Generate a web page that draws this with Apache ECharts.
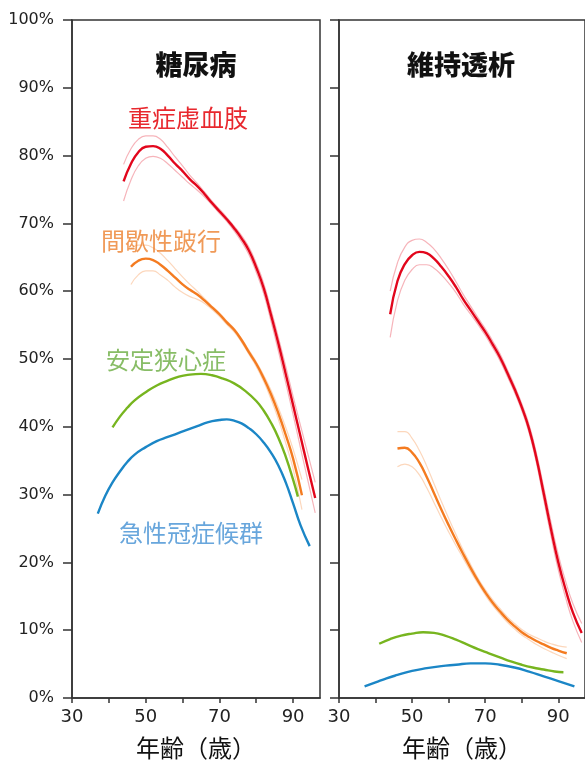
<!DOCTYPE html>
<html>
<head>
<meta charset="utf-8">
<script src="https://cdn.jsdelivr.net/npm/echarts@6/dist/echarts.min.js"></script>
<style>
  html, body { margin: 0; padding: 0; background: #fff; }
  #chart { width: 585px; height: 765px; }
</style>
</head>
<body>
<div id="chart"></div>
<script>
// 糖尿病 (left panel)
const dmRedAge = [44, 46, 48, 50, 52, 54, 56, 58, 60, 62, 64, 66, 68, 70, 72, 74, 76, 78, 80, 82, 84, 86, 88, 90, 92, 94, 96]
const dmRedVal = [76.2, 78.8, 80.5, 81.3, 81.4, 81.0, 80.0, 78.8, 77.7, 76.5, 75.5, 74.3, 73.0, 71.8, 70.6, 69.3, 67.8, 66.0, 63.5, 60.5, 56.5, 52.3, 47.8, 43.2, 38.6, 34.0, 29.5]
const dmRedUp = [78.7, 81.0, 82.4, 82.9, 82.9, 82.4, 81.2, 79.8, 78.5, 77.1, 75.9, 74.6, 73.3, 72.1, 70.9, 69.6, 68.2, 66.5, 64.1, 61.2, 57.3, 53.2, 48.9, 44.5, 40.2, 36.0, 31.8]
const dmRedLo = [73.3, 76.4, 78.5, 79.6, 79.9, 79.6, 78.8, 77.8, 76.8, 75.8, 74.9, 73.9, 72.7, 71.5, 70.3, 68.9, 67.3, 65.4, 62.8, 59.7, 55.6, 51.2, 46.5, 41.8, 36.9, 32.1, 27.3]

const dmOrgAge = [46, 48, 50, 52, 54, 56, 58, 60, 62, 64, 66, 68, 70, 72, 74, 76, 78, 80, 82, 84, 86, 88, 90, 92.4]
const dmOrgVal = [63.6, 64.5, 64.8, 64.6, 63.9, 63.0, 62.0, 61.0, 60.2, 59.5, 58.6, 57.6, 56.6, 55.4, 54.3, 52.8, 51.0, 49.3, 47.2, 44.8, 42.0, 38.8, 35.3, 29.9]
const dmOrgUp = [66.3, 66.8, 66.8, 66.4, 65.6, 64.5, 63.3, 62.1, 61.0, 60.0, 58.9, 57.8, 56.8, 55.6, 54.5, 53.0, 51.3, 49.6, 47.6, 45.4, 42.8, 39.9, 36.7, 32.2]
const dmOrgLo = [61.0, 62.4, 63.0, 63.0, 62.4, 61.6, 60.6, 59.8, 59.2, 58.8, 58.2, 57.3, 56.3, 55.1, 54.0, 52.5, 50.7, 48.9, 46.7, 44.1, 41.1, 37.6, 33.8, 27.8]

const dmGrnAge = [41, 43, 45, 47, 50, 53, 56, 59, 62, 65, 68, 71, 74, 77, 80, 82, 84, 86, 88, 90, 91.3]
const dmGrnVal = [39.9, 41.5, 42.8, 43.9, 45.1, 46.1, 46.8, 47.4, 47.7, 47.8, 47.6, 47.1, 46.4, 45.3, 43.8, 42.4, 40.6, 38.4, 35.6, 32.2, 29.7]

const dmBluAge = [37, 39, 41, 43, 45, 47, 50, 53, 56, 58, 61, 64, 67, 70, 72, 74, 76, 78, 80, 82, 84, 86, 88, 90, 92, 94.5]
const dmBluVal = [27.2, 29.8, 31.8, 33.4, 34.8, 35.9, 37.0, 37.9, 38.5, 38.9, 39.5, 40.1, 40.7, 41.0, 41.1, 40.9, 40.5, 39.8, 38.9, 37.7, 36.2, 34.3, 31.8, 28.7, 25.5, 22.4]

// 維持透析 (right panel)
const hdRedAge = [44, 46, 48, 50, 52, 54, 56, 58, 60, 62, 64, 66, 68, 70, 72, 74, 76, 78, 80, 82, 84, 86, 88, 90, 92, 94, 96.4]
const hdRedVal = [56.6, 61.5, 64.0, 65.3, 65.8, 65.6, 64.8, 63.6, 62.2, 60.6, 58.8, 57.2, 55.6, 54.0, 52.2, 50.3, 48.0, 45.6, 42.9, 39.7, 35.4, 30.2, 24.9, 20.0, 16.0, 12.6, 9.6]
const hdRedUp = [60.0, 64.2, 66.5, 67.5, 67.7, 67.2, 66.2, 64.8, 63.2, 61.4, 59.5, 57.8, 56.1, 54.5, 52.7, 50.8, 48.5, 46.1, 43.4, 40.3, 36.1, 31.1, 25.9, 21.1, 17.2, 13.9, 11.0]
const hdRedLo = [53.2, 58.6, 61.6, 63.2, 63.9, 63.9, 63.4, 62.4, 61.2, 59.8, 58.1, 56.6, 55.1, 53.5, 51.7, 49.8, 47.5, 45.1, 42.4, 39.1, 34.7, 29.3, 23.9, 18.9, 14.8, 11.3, 8.2]

const hdOrgAge = [46, 48, 50, 52, 54, 56, 58, 60, 62, 64, 66, 68, 70, 72, 74, 76, 78, 80, 82, 84, 86, 88, 90, 92.3]
const hdOrgVal = [36.8, 36.9, 36.2, 34.7, 32.6, 30.2, 27.8, 25.5, 23.3, 21.2, 19.2, 17.3, 15.6, 14.1, 12.8, 11.6, 10.6, 9.7, 9.0, 8.4, 7.9, 7.4, 7.0, 6.6]
const hdOrgUp = [39.3, 39.3, 38.3, 36.5, 34.2, 31.6, 29.0, 26.5, 24.1, 21.8, 19.7, 17.7, 16.0, 14.5, 13.2, 12.0, 11.0, 10.1, 9.4, 8.9, 8.4, 8.0, 7.7, 7.5]
const hdOrgLo = [34.1, 34.5, 34.1, 32.9, 31.0, 28.8, 26.6, 24.5, 22.5, 20.6, 18.7, 16.9, 15.2, 13.7, 12.4, 11.2, 10.2, 9.3, 8.6, 7.9, 7.3, 6.8, 6.3, 5.8]

const hdGrnAge = [41, 44, 47, 50, 53, 56, 59, 62, 65, 68, 71, 74, 77, 80, 83, 86, 89, 91.4]
const hdGrnVal = [8.0, 8.7, 9.2, 9.5, 9.7, 9.6, 9.2, 8.6, 7.9, 7.2, 6.6, 6.0, 5.4, 4.9, 4.5, 4.2, 3.9, 3.8]

const hdBluAge = [37, 40, 43, 46, 50, 54, 58, 62, 66, 70, 74, 78, 82, 86, 90, 94.4]
const hdBluVal = [1.7, 2.3, 2.9, 3.4, 4.0, 4.4, 4.7, 4.9, 5.1, 5.1, 4.9, 4.5, 3.9, 3.2, 2.5, 1.7]

const xTicks = [30, 40, 50, 60, 70, 80, 90]
const xLabels = [30, 50, 70, 90]
const panelTitles = ['糖尿病', '維持透析']
const seriesNames = ['重症虚血肢', '間歇性跛行', '安定狭心症', '急性冠症候群']

const RED = '#e2061c'
const ORANGE = '#f47b20'
const GREEN = '#77b51f'
const BLUE = '#1b86c6'

const zip = (a, b) => a.map((x, i) => [x, b[i]])
const cjk = '"Noto Sans CJK JP", "Noto Sans CJK SC", sans-serif'

const chart = echarts.init(document.getElementById('chart'), null, { renderer: 'canvas' })

function mainLine(idx, ages, vals, color) {
  return {
    type: 'line', xAxisIndex: idx, yAxisIndex: idx,
    data: zip(ages, vals), smooth: 0.5, showSymbol: false, z: 5,
    lineStyle: { color: color, width: 2.4 }
  }
}
// 信頼区間の細線
function ciLine(idx, ages, vals, color) {
  return {
    type: 'line', xAxisIndex: idx, yAxisIndex: idx,
    data: zip(ages, vals), smooth: 0.5, showSymbol: false, z: 3,
    lineStyle: { color: color, width: 1.2, opacity: 0.3 }
  }
}

const xAxisBase = {
  type: 'value', min: 30, max: 97.3,
  axisLine: { show: true, onZero: false, lineStyle: { color: '#333', width: 1.5 } },
  axisTick: { show: true, customValues: xTicks, length: 5, lineStyle: { color: '#333', width: 1.5 } },
  axisLabel: { customValues: xLabels, margin: 10, fontSize: 18, color: '#222', fontFamily: 'DejaVu Sans' },
  splitLine: { show: false },
  name: '年齢（歳）', nameLocation: 'middle', nameGap: 38,
  nameTextStyle: { fontSize: 24, color: '#111', fontFamily: cjk }
}
const yAxisBase = {
  type: 'value', min: 0, max: 100, interval: 10,
  axisLine: { show: true, lineStyle: { color: '#333', width: 1.5 } },
  axisTick: { show: true, length: 9, lineStyle: { color: '#333', width: 1.5 } },
  splitLine: { show: false }
}

const option = {
  animation: false,
  backgroundColor: '#fff',
  grid: [
    { left: 72, top: 20, right: 265, bottom: 65, show: true, borderColor: '#333', borderWidth: 1.5 },
    { left: 339, top: 20, right: -2, bottom: 65, show: true, borderColor: '#333', borderWidth: 1.5 }
  ],
  xAxis: [
    Object.assign({ gridIndex: 0 }, xAxisBase),
    Object.assign({ gridIndex: 1 }, xAxisBase)
  ],
  yAxis: [
    Object.assign({ gridIndex: 0 }, yAxisBase, {
      axisLabel: { formatter: '{value}%', margin: 18, fontSize: 16, color: '#222', fontFamily: 'DejaVu Sans' }
    }),
    Object.assign({ gridIndex: 1 }, yAxisBase, { axisLabel: { show: false } })
  ],
  series: [
    ciLine(0, dmRedAge, dmRedUp, RED),
    ciLine(0, dmRedAge, dmRedLo, RED),
    ciLine(0, dmOrgAge, dmOrgUp, ORANGE),
    ciLine(0, dmOrgAge, dmOrgLo, ORANGE),
    mainLine(0, dmRedAge, dmRedVal, RED),
    mainLine(0, dmOrgAge, dmOrgVal, ORANGE),
    mainLine(0, dmGrnAge, dmGrnVal, GREEN),
    mainLine(0, dmBluAge, dmBluVal, BLUE),
    ciLine(1, hdRedAge, hdRedUp, RED),
    ciLine(1, hdRedAge, hdRedLo, RED),
    ciLine(1, hdOrgAge, hdOrgUp, ORANGE),
    ciLine(1, hdOrgAge, hdOrgLo, ORANGE),
    mainLine(1, hdRedAge, hdRedVal, RED),
    mainLine(1, hdOrgAge, hdOrgVal, ORANGE),
    mainLine(1, hdGrnAge, hdGrnVal, GREEN),
    mainLine(1, hdBluAge, hdBluVal, BLUE)
  ],
  graphic: [
    { type: 'text', x: 196, y: 65, style: { text: panelTitles[0], align: 'center', verticalAlign: 'middle', font: '900 27px ' + cjk, fill: '#111' } },
    { type: 'text', x: 461, y: 65, style: { text: panelTitles[1], align: 'center', verticalAlign: 'middle', font: '900 27px ' + cjk, fill: '#111' } },
    { type: 'text', x: 188, y: 118, style: { text: seriesNames[0], align: 'center', verticalAlign: 'middle', font: '24px ' + cjk, fill: '#e8282e' } },
    { type: 'text', x: 161, y: 241, style: { text: seriesNames[1], align: 'center', verticalAlign: 'middle', font: '24px ' + cjk, fill: '#f09a58' } },
    { type: 'text', x: 166, y: 360, style: { text: seriesNames[2], align: 'center', verticalAlign: 'middle', font: '24px ' + cjk, fill: '#88bd66' } },
    { type: 'text', x: 191, y: 533, style: { text: seriesNames[3], align: 'center', verticalAlign: 'middle', font: '24px ' + cjk, fill: '#68a6dc' } }
  ]
}

chart.setOption(option)
</script>
</body>
</html>
